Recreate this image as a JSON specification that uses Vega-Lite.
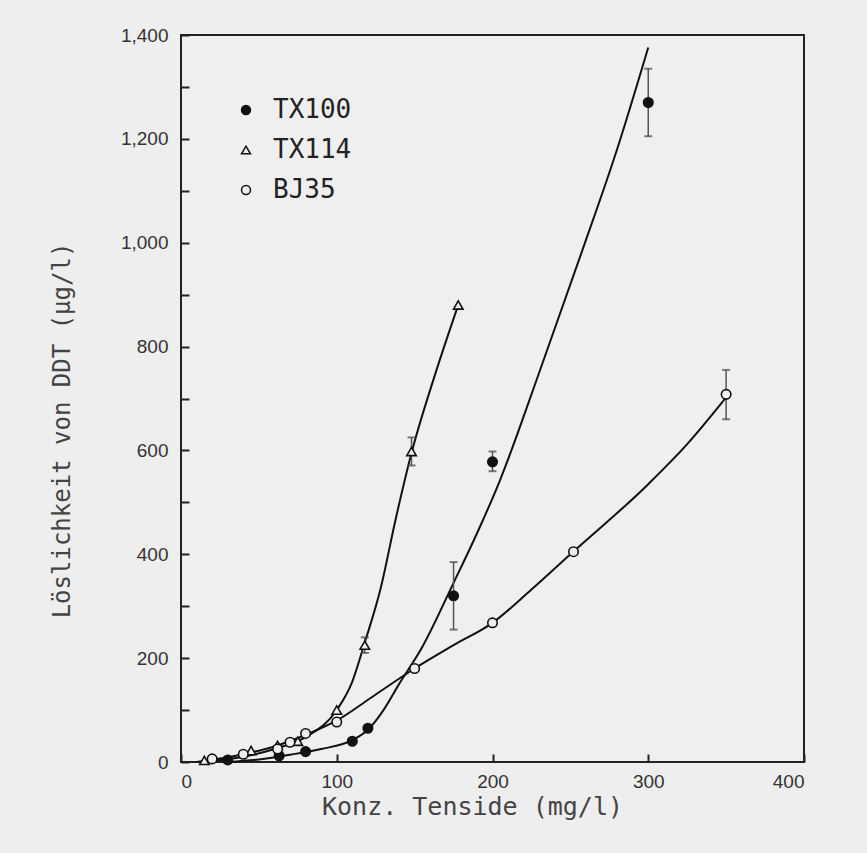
{
  "$schema": "https://vega.github.io/schema/vega-lite/v6.json",
  "width": 623,
  "height": 727,
  "autosize": "none",
  "padding": {"left": 181, "top": 35, "right": 63, "bottom": 91},
  "background": "#eeeeee",
  "config": {
    "view": {"stroke": "#222222", "strokeWidth": 2, "fill": "#efefef"},
    "axis": {
      "grid": false,
      "domain": false,
      "tickColor": "#222222",
      "tickWidth": 2,
      "tickSize": -8,
      "labelFont": "Liberation Sans",
      "labelFontSize": 19,
      "labelColor": "#333333",
      "titleFont": "DejaVu Sans Mono",
      "titleFontSize": 24,
      "titleFontWeight": "normal",
      "titleColor": "#444444"
    },
    "legend": {
      "labelFont": "DejaVu Sans Mono",
      "labelFontSize": 26,
      "labelColor": "#222222"
    }
  },
  "datasets": {
    "points": [
      {"series": "TX100", "x": 30, "y": 4},
      {"series": "TX100", "x": 63, "y": 12},
      {"series": "TX100", "x": 80, "y": 20},
      {"series": "TX100", "x": 110, "y": 40},
      {"series": "TX100", "x": 120, "y": 65},
      {"series": "TX100", "x": 175, "y": 320},
      {"series": "TX100", "x": 200, "y": 578},
      {"series": "TX100", "x": 300, "y": 1270},
      {"series": "TX114", "x": 15, "y": 3},
      {"series": "TX114", "x": 45, "y": 22},
      {"series": "TX114", "x": 62, "y": 32},
      {"series": "TX114", "x": 75, "y": 40},
      {"series": "TX114", "x": 100, "y": 100},
      {"series": "TX114", "x": 118, "y": 225},
      {"series": "TX114", "x": 148, "y": 598},
      {"series": "TX114", "x": 178, "y": 880},
      {"series": "BJ35", "x": 20, "y": 6},
      {"series": "BJ35", "x": 40, "y": 15},
      {"series": "BJ35", "x": 62, "y": 25},
      {"series": "BJ35", "x": 70, "y": 38},
      {"series": "BJ35", "x": 80, "y": 55},
      {"series": "BJ35", "x": 100, "y": 77},
      {"series": "BJ35", "x": 150, "y": 180},
      {"series": "BJ35", "x": 200, "y": 268},
      {"series": "BJ35", "x": 252, "y": 405},
      {"series": "BJ35", "x": 350, "y": 708}
    ],
    "errors": [
      {"series": "TX100", "x": 175, "lo": 255, "hi": 385},
      {"series": "TX100", "x": 200, "lo": 560, "hi": 598},
      {"series": "TX100", "x": 300, "lo": 1205, "hi": 1335},
      {"series": "TX114", "x": 118, "lo": 210, "hi": 240},
      {"series": "TX114", "x": 148, "lo": 571, "hi": 625},
      {"series": "BJ35", "x": 350, "lo": 660, "hi": 755}
    ],
    "curves": [
      {"series": "TX100", "x": 30, "y": 0},
      {"series": "TX100", "x": 50, "y": 5},
      {"series": "TX100", "x": 70, "y": 14},
      {"series": "TX100", "x": 90, "y": 25},
      {"series": "TX100", "x": 110, "y": 42},
      {"series": "TX100", "x": 120, "y": 62},
      {"series": "TX100", "x": 130, "y": 100},
      {"series": "TX100", "x": 140, "y": 150},
      {"series": "TX100", "x": 155, "y": 222},
      {"series": "TX100", "x": 175, "y": 345},
      {"series": "TX100", "x": 190, "y": 440},
      {"series": "TX100", "x": 205, "y": 544},
      {"series": "TX100", "x": 230, "y": 750},
      {"series": "TX100", "x": 258, "y": 988},
      {"series": "TX100", "x": 280, "y": 1180},
      {"series": "TX100", "x": 300, "y": 1376},
      {"series": "TX114", "x": 15, "y": 0},
      {"series": "TX114", "x": 40, "y": 10},
      {"series": "TX114", "x": 60, "y": 25},
      {"series": "TX114", "x": 80, "y": 48},
      {"series": "TX114", "x": 100, "y": 100},
      {"series": "TX114", "x": 110, "y": 155},
      {"series": "TX114", "x": 118, "y": 230},
      {"series": "TX114", "x": 128, "y": 332},
      {"series": "TX114", "x": 138, "y": 470},
      {"series": "TX114", "x": 148, "y": 595},
      {"series": "TX114", "x": 163, "y": 745},
      {"series": "TX114", "x": 178, "y": 880},
      {"series": "BJ35", "x": 10, "y": 0},
      {"series": "BJ35", "x": 40, "y": 15},
      {"series": "BJ35", "x": 60, "y": 30},
      {"series": "BJ35", "x": 80, "y": 52},
      {"series": "BJ35", "x": 100, "y": 80},
      {"series": "BJ35", "x": 125, "y": 130},
      {"series": "BJ35", "x": 150, "y": 180},
      {"series": "BJ35", "x": 175, "y": 225},
      {"series": "BJ35", "x": 200, "y": 268},
      {"series": "BJ35", "x": 225, "y": 332},
      {"series": "BJ35", "x": 250, "y": 400},
      {"series": "BJ35", "x": 300, "y": 535},
      {"series": "BJ35", "x": 325, "y": 612},
      {"series": "BJ35", "x": 350, "y": 702}
    ]
  },
  "layer": [
    {
      "data": {"name": "curves"},
      "mark": {"type": "line", "interpolate": "monotone", "color": "#111111", "strokeWidth": 2},
      "encoding": {
        "x": {
          "field": "x", "type": "quantitative",
          "scale": {"domain": [0, 400], "nice": false, "zero": true},
          "axis": {"values": [0, 100, 200, 300, 400], "labelPadding": 18, "title": "Konz. Tenside (mg/l)", "titleX": 291, "titleY": 44, "titleBaseline": "middle", "titleFontSize": 25}
        },
        "y": {
          "field": "y", "type": "quantitative",
          "scale": {"domain": [0, 1400], "nice": false},
          "axis": {
            "values": [0, 100, 200, 300, 400, 500, 600, 700, 800, 900, 1000, 1100, 1200, 1300, 1400],
            "labelExpr": "datum.value % 200 === 0 ? format(datum.value, ',') : ''",
            "labelPadding": 21,
            "title": "Löslichkeit von DDT (µg/l)",
            "titleX": -119, "titleY": 395, "titleAngle": -90, "titleAlign": "center", "titleBaseline": "middle"
          }
        },
        "detail": {"field": "series"}
      }
    },
    {
      "data": {"name": "errors"},
      "mark": {"type": "rule", "color": "#555555", "strokeWidth": 1.5},
      "encoding": {
        "x": {"field": "x", "type": "quantitative"},
        "y": {"field": "lo", "type": "quantitative"},
        "y2": {"field": "hi"}
      }
    },
    {
      "data": {"name": "errors"},
      "mark": {"type": "tick", "orient": "horizontal", "color": "#444444", "size": 8, "thickness": 2},
      "encoding": {
        "x": {"field": "x", "type": "quantitative"},
        "y": {"field": "lo", "type": "quantitative"}
      }
    },
    {
      "data": {"name": "errors"},
      "mark": {"type": "tick", "orient": "horizontal", "color": "#444444", "size": 8, "thickness": 2},
      "encoding": {
        "x": {"field": "x", "type": "quantitative"},
        "y": {"field": "hi", "type": "quantitative"}
      }
    },
    {
      "data": {"name": "points"},
      "mark": {"type": "point", "filled": false, "stroke": "#111111", "strokeWidth": 1.6, "size": 90, "opacity": 1},
      "encoding": {
        "x": {"field": "x", "type": "quantitative"},
        "y": {"field": "y", "type": "quantitative"},
        "shape": {
          "field": "series", "type": "nominal",
          "scale": {"domain": ["TX100", "TX114", "BJ35"], "range": ["circle", "triangle-up", "circle"]},
          "legend": {
            "title": null, "orient": "none", "legendX": 52, "legendY": 62, "rowPadding": 14, "labelOffset": 14, "symbolSize": 80,
            "encode": {"symbols": {"update": {"stroke": {"value": "#111111"}, "strokeWidth": {"value": 1.6}}}}
          }
        },
        "fill": {
          "field": "series", "type": "nominal",
          "scale": {"domain": ["TX100", "TX114", "BJ35"], "range": ["#111111", "#efefef", "#efefef"]},
          "legend": {
            "title": null, "orient": "none", "legendX": 52, "legendY": 62, "rowPadding": 14, "labelOffset": 14, "symbolSize": 80,
            "encode": {"symbols": {"update": {"stroke": {"value": "#111111"}, "strokeWidth": {"value": 1.6}}}}
          }
        }
      }
    }
  ]
}
